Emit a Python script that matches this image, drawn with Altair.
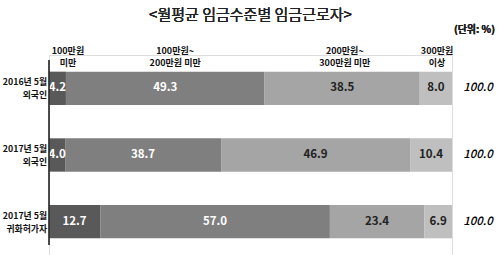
import altair as alt
import pandas as pd

categories = ["2016년 5월\n외국인", "2017년 5월\n외국인", "2017년 5월\n귀화허가자"]
groups = ["100만원\n미만", "100만원~\n200만원 미만", "200만원~\n300만원 미만", "300만원\n이상"]
seg1 = [4.2, 4.0, 12.7]
seg2 = [49.3, 38.7, 57.0]
seg3 = [38.5, 46.9, 23.4]
seg4 = [8.0, 10.4, 6.9]
totals = ["100.0", "100.0", "100.0"]
header_anchor = [4.7, 31.3, 73.4, 96.3]

series = [seg1, seg2, seg3, seg4]
rows = []
for gi, g in enumerate(groups):
    for ci, c in enumerate(categories):
        rows.append({"cat": c, "group": g, "order": gi, "value": series[gi][ci],
                     "label": f"{series[gi][ci]:.1f}", "light": gi < 2})
df = pd.DataFrame(rows)
tot_df = pd.DataFrame({"cat": categories, "total": totals, "pos": [100.0] * 3})
head_df = pd.DataFrame({"group": groups, "pos": header_anchor})
cat_df = pd.DataFrame({"cat": categories})

FONT = "Noto Sans CJK KR"
colors = ["#595959", "#7f7f7f", "#a5a5a5", "#bfbfbf"]

xs = alt.Scale(domain=[0, 100], nice=False, zero=True)
ys = alt.Scale(domain=categories, paddingInner=0.5, paddingOuter=0.25)

base = alt.Chart(df).transform_stack(
    stack="value", groupby=["cat"], as_=["start", "end"],
    sort=[alt.SortField("order", order="ascending")]
).transform_calculate(mid="(datum.start + datum.end) / 2")

bars = base.mark_bar().encode(
    x=alt.X("start:Q", scale=xs, axis=None),
    x2="end:Q",
    y=alt.Y("cat:N", scale=ys, axis=None),
    color=alt.Color("group:N", scale=alt.Scale(domain=groups, range=colors), legend=None),
)

labels = base.mark_text(font=FONT, fontSize=11.5, fontWeight="bold", baseline="middle").encode(
    x=alt.X("mid:Q", scale=xs),
    y=alt.Y("cat:N", scale=ys),
    text="label:N",
    color=alt.condition("datum.light", alt.value("#ffffff"), alt.value("#222222")),
)

tot = alt.Chart(tot_df).mark_text(font=FONT, fontSize=11.5, fontStyle="italic", fontWeight=500,
                                  dx=26, color="#000000", baseline="middle").encode(
    x=alt.X("pos:Q", scale=xs),
    y=alt.Y("cat:N", scale=ys),
    text="total:N",
)

heads = alt.Chart(head_df).transform_calculate(
    lines="split(datum.group, '\\n')"
).mark_text(font=FONT, fontSize=9, fontWeight="bold", lineHeight=12, baseline="top",
            color="#111111").encode(
    x=alt.X("pos:Q", scale=xs),
    y=alt.value(-8),
    text="lines:N",
)

cats = alt.Chart(cat_df).transform_calculate(
    lines="split(datum.cat, '\\n')"
).mark_text(font=FONT, fontSize=8.8, fontWeight="bold", lineHeight=13, align="right",
            baseline="middle", dy=-6, color="#111111").encode(
    x=alt.value(-2),
    y=alt.Y("cat:N", scale=ys),
    text="lines:N",
)

axis_line = alt.Chart(cat_df).mark_rule(color="#333333", strokeWidth=1).encode(
    x=alt.value(0), y=alt.value(5), y2=alt.value(190)
)

title = alt.Chart(cat_df).mark_text(font=FONT, fontSize=15, color="#222222").encode(
    x=alt.value(201.5), y=alt.value(-40), text=alt.value("<월평균  임금수준별  임금근로자>")
)

unit = alt.Chart(cat_df).mark_text(font=FONT, fontSize=10, fontWeight="bold", align="right",
                                   color="#222222").encode(
    x=alt.value(446), y=alt.value(-25), text=alt.value("(단위: %)")
)

chart = alt.layer(bars, labels, tot, heads, cats, axis_line, title, unit).properties(
    width=403, height=200,
    autosize=alt.AutoSizeParams(type="none"),
    padding={"left": 49, "top": 55, "right": 48, "bottom": 0},
).configure_view(stroke=None).configure(background="#ffffff")

chart.save("out.html", embed_options={"renderer": "svg", "actions": False})
